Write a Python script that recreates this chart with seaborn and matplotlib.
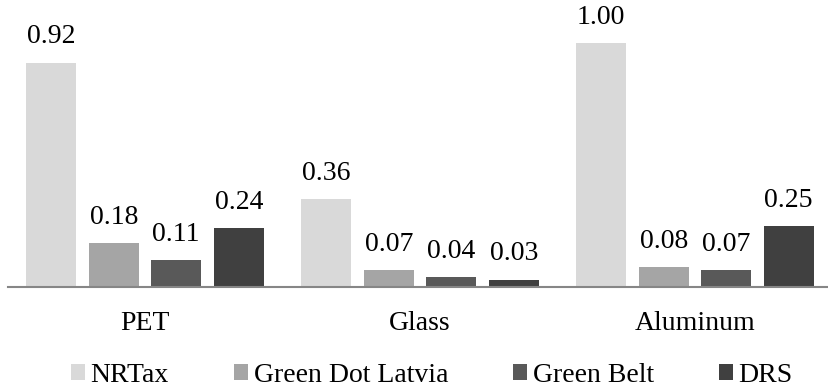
import matplotlib
matplotlib.use('Agg')
import matplotlib.pyplot as plt
from matplotlib.patches import Patch
import pandas as pd
import seaborn as sns

# ── Data ──
materials = ['PET', 'Glass', 'Aluminum']
schemes = ['NRTax', 'Green Dot Latvia', 'Green Belt', 'DRS']
nrtax = [0.92, 0.36, 1.00]
green_dot = [0.18, 0.07, 0.08]
green_belt = [0.11, 0.04, 0.07]
drs = [0.24, 0.03, 0.25]
colors = ['#D9D9D9', '#A5A5A5', '#595959', '#404040']

rows = []
for name, vals in zip(schemes, [nrtax, green_dot, green_belt, drs]):
    for mat, v in zip(materials, vals):
        rows.append({'material': mat, 'scheme': name, 'value': v})
df = pd.DataFrame(rows)

sns.set_style('white')
FAMILY = ['Liberation Serif', 'DejaVu Serif']
plt.rcParams.update({
    'font.family': FAMILY,
    'font.size': 20,
    'text.color': 'black',
    'xtick.color': 'black',
    'xtick.labelcolor': 'black',
})

W, H = 829, 388
fig = plt.figure(figsize=(W / 100, H / 100), dpi=100)
# axes: baseline at y=287 px from top, 244 px per unit, category width 275 px
ax = fig.add_axes([7.5 / W, (H - 287) / H, 825 / W, 280.6 / H])

sns.barplot(data=df, x='material', y='value', hue='scheme', order=materials,
            hue_order=schemes, palette=colors, width=0.909, gap=0.2,
            linewidth=0, saturation=1, legend=False, ax=ax)

for cont in ax.containers:
    ax.bar_label(cont, fmt='%.2f', padding=9.5, fontsize=20, color='black',
                 family=FAMILY)

ax.set_xlim(-0.5, 2.5)
ax.set_ylim(0, 1.15)
ax.set_xlabel('')
ax.set_ylabel('')
ax.set_yticks([])
for s in ['top', 'right', 'left']:
    ax.spines[s].set_visible(False)
ax.spines['bottom'].set_color('#868686')
ax.spines['bottom'].set_linewidth(1.5)
ax.tick_params(axis='x', length=0, pad=17.5, labelsize=20, labelcolor='black')

handles = [Patch(facecolor=c, edgecolor='none', label=s) for c, s in zip(colors, schemes)]
fig.legend(handles=handles, loc='center', bbox_to_anchor=(432 / W, (H - 375) / H),
           ncol=4, frameon=False, prop={'family': FAMILY, 'size': 20},
           handlelength=0.5, handleheight=0.5,
           handletextpad=0.2, columnspacing=2.35, borderpad=0)

fig.savefig('out.png', dpi=100, facecolor='white')
plt.close()
